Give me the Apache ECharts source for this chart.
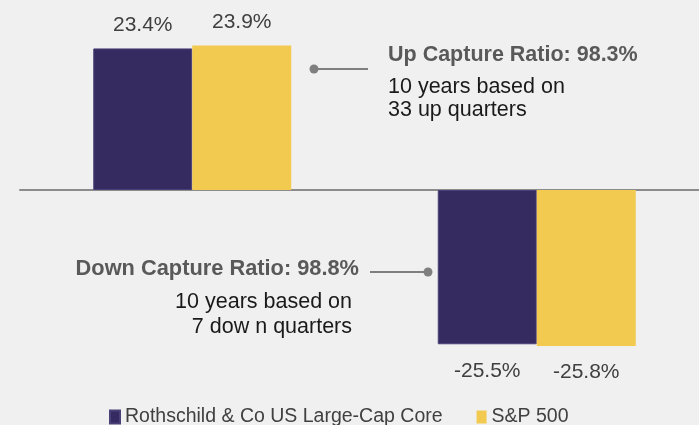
<!DOCTYPE html>
<html>
<head>
<meta charset="utf-8">
<script src="https://cdn.jsdelivr.net/npm/echarts@6/dist/echarts.min.js"></script>
<style>
  html, body { margin: 0; padding: 0; background: #f0f0f0; overflow: hidden; }
  #chart { width: 712px; height: 425px; }
</style>
</head>
<body>
<div id="chart"></div>
<script>
const categories = ['Up', 'Down']
const seriesNames = ['Rothschild & Co US Large-Cap Core', 'S&P 500']
const fundValues = [23.4, -25.5]
const indexValues = [23.9, -25.8]
const colors = ['#362b61', '#f2ca50']

const upTitle = 'Up Capture Ratio: 98.3%'
const upLines = ['10 years based on', '33 up quarters']
const downTitle = 'Down Capture Ratio: 98.8%'
const downLines = ['10 years based on', '7 dow n quarters']

const font = 'Liberation Sans, Arial, sans-serif'

function toItems(values) {
  return values.map(v => ({
    value: v,
    label: {
      position: v >= 0 ? 'top' : 'bottom',
      distance: v >= 0 ? 13 : 16
    }
  }))
}

const chart = echarts.init(document.getElementById('chart'))

const option = {
  backgroundColor: '#f0f0f0',
  animation: false,
  color: colors,
  textStyle: { fontFamily: font },
  // the plot runs a little past the right edge of the picture
  grid: { left: 20, width: 689, top: 8.5, height: 363 },
  legend: {
    data: seriesNames,
    left: 104,
    top: 402,
    icon: 'rect',
    itemWidth: 10,
    itemHeight: 13,
    itemGap: 34,
    textStyle: { fontSize: 19.5, color: '#404040', fontFamily: font }
  },
  xAxis: {
    type: 'category',
    data: categories,
    axisLine: { onZero: true, lineStyle: { color: '#8c8c8c', width: 2 } },
    axisTick: { show: false },
    axisLabel: { show: false }
  },
  yAxis: {
    type: 'value',
    min: -30,
    max: 30,
    show: false,
    splitLine: { show: false }
  },
  series: [
    {
      name: seriesNames[0],
      type: 'bar',
      barWidth: 99,
      barGap: '0%',
      data: toItems(fundValues),
      itemStyle: { color: colors[0], borderColor: '#4a4078', borderWidth: 1 },
      label: { show: true, formatter: p => p.value + '%', fontSize: 21, color: '#404040', fontFamily: font }
    },
    {
      name: seriesNames[1],
      type: 'bar',
      barWidth: 99,
      data: toItems(indexValues),
      itemStyle: { color: colors[1] },
      label: { show: true, formatter: p => p.value + '%', fontSize: 21, color: '#404040', fontFamily: font }
    }
  ],
  graphic: [
    // up annotation
    { type: 'line', shape: { x1: 314, y1: 69, x2: 368, y2: 69 }, style: { stroke: '#7f7f7f', lineWidth: 2 } },
    { type: 'circle', shape: { cx: 314, cy: 69, r: 4.5 }, style: { fill: '#7f7f7f' } },
    { type: 'text', x: 388, y: 55, style: { text: upTitle, font: 'bold 21.5px ' + font, fill: '#595959', align: 'left', verticalAlign: 'middle' } },
    { type: 'text', x: 388, y: 87, style: { text: upLines[0], font: '21.5px ' + font, fill: '#1a1a1a', align: 'left', verticalAlign: 'middle' } },
    { type: 'text', x: 388, y: 110, style: { text: upLines[1], font: '21.5px ' + font, fill: '#1a1a1a', align: 'left', verticalAlign: 'middle' } },
    // down annotation
    { type: 'line', shape: { x1: 370, y1: 272, x2: 428, y2: 272 }, style: { stroke: '#7f7f7f', lineWidth: 2 } },
    { type: 'circle', shape: { cx: 428, cy: 272, r: 4.5 }, style: { fill: '#7f7f7f' } },
    { type: 'text', x: 359, y: 269, style: { text: downTitle, font: 'bold 21.8px ' + font, fill: '#595959', align: 'right', verticalAlign: 'middle' } },
    { type: 'text', x: 352, y: 302, style: { text: downLines[0], font: '21.5px ' + font, fill: '#1a1a1a', align: 'right', verticalAlign: 'middle' } },
    { type: 'text', x: 352, y: 327, style: { text: downLines[1], font: '21.5px ' + font, fill: '#1a1a1a', align: 'right', verticalAlign: 'middle' } }
  ]
}

chart.setOption(option)
</script>
</body>
</html>
